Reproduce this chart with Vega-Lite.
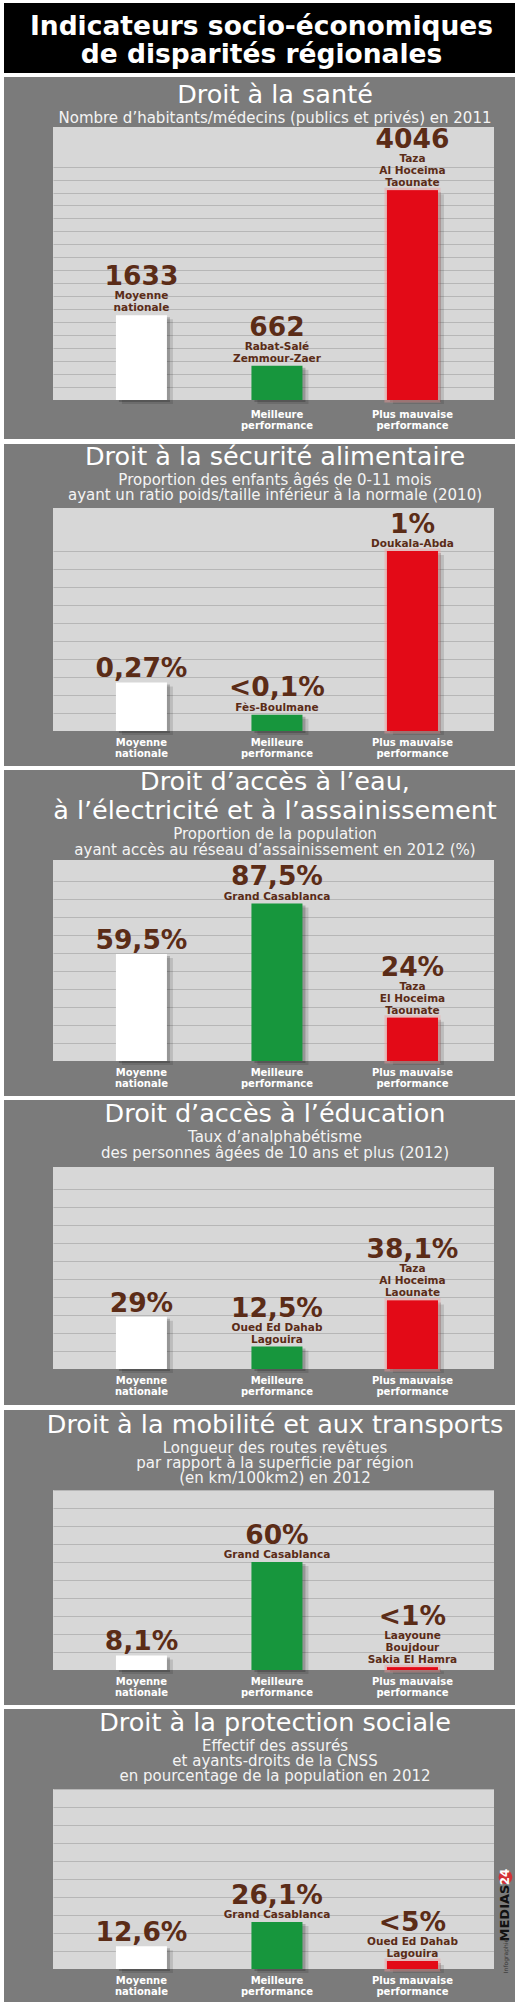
{
  "$schema": "https://vega.github.io/schema/vega-lite/v6.json",
  "background": "#ffffff",
  "padding": {"left": 4, "right": 4, "top": 3, "bottom": 3},
  "spacing": 4,
  "datasets": {
    "header": [{"text": "Indicateurs socio-économiques\nde disparités régionales"}],
    "bars": [
      {"panel": 1, "cat": "Moyenne nationale", "value": 1633, "label": "1633", "region": "Moyenne\nnationale"},
      {"panel": 1, "cat": "Meilleure performance", "value": 662, "label": "662", "region": "Rabat-Salé\nZemmour-Zaer"},
      {"panel": 1, "cat": "Plus mauvaise performance", "value": 4046, "label": "4046", "region": "Taza\nAl Hoceima\nTaounate"},
      {"panel": 2, "cat": "Moyenne nationale", "value": 0.27, "label": "0,27%", "region": ""},
      {"panel": 2, "cat": "Meilleure performance", "value": 0.09, "label": "<0,1%", "region": "Fès-Boulmane"},
      {"panel": 2, "cat": "Plus mauvaise performance", "value": 1, "label": "1%", "region": "Doukala-Abda"},
      {"panel": 3, "cat": "Moyenne nationale", "value": 59.5, "label": "59,5%", "region": ""},
      {"panel": 3, "cat": "Meilleure performance", "value": 87.5, "label": "87,5%", "region": "Grand Casablanca"},
      {"panel": 3, "cat": "Plus mauvaise performance", "value": 24, "label": "24%", "region": "Taza\nEl Hoceima\nTaounate"},
      {"panel": 4, "cat": "Moyenne nationale", "value": 29, "label": "29%", "region": ""},
      {"panel": 4, "cat": "Meilleure performance", "value": 12.5, "label": "12,5%", "region": "Oued Ed Dahab\nLagouira"},
      {"panel": 4, "cat": "Plus mauvaise performance", "value": 38.1, "label": "38,1%", "region": "Taza\nAl Hoceima\nLaounate"},
      {"panel": 5, "cat": "Moyenne nationale", "value": 8.1, "label": "8,1%", "region": ""},
      {"panel": 5, "cat": "Meilleure performance", "value": 60, "label": "60%", "region": "Grand Casablanca"},
      {"panel": 5, "cat": "Plus mauvaise performance", "value": 1.5, "label": "<1%", "region": "Laayoune\nBoujdour\nSakia El Hamra"},
      {"panel": 6, "cat": "Moyenne nationale", "value": 12.6, "label": "12,6%", "region": ""},
      {"panel": 6, "cat": "Meilleure performance", "value": 26.1, "label": "26,1%", "region": "Grand Casablanca"},
      {"panel": 6, "cat": "Plus mauvaise performance", "value": 4.4, "label": "<5%", "region": "Oued Ed Dahab\nLagouira"}
    ]
  },
  "config": {
    "font": "DejaVu Sans",
    "view": {"stroke": null},
    "title": {"color": "#ffffff", "font": "DejaVu Sans", "fontSize": 25.5, "fontWeight": "normal", "subtitleColor": "#f4f4f4", "subtitleFont": "DejaVu Sans", "subtitleFontSize": 15, "subtitlePadding": 0, "baseline": "top", "frame": "group", "anchor": "middle", "zindex": 1, "dx": 1.5, "lineHeight": 28.5},
    "axis": {"domain": false, "ticks": false, "tickSize": 0, "labelColor": "#ffffff", "labelFont": "DejaVu Sans", "labelFontWeight": "bold", "labelOverlap": false, "labelFlush": false, "grid": false, "gridColor": "#b6b6b6", "gridWidth": 1.2}
  },
  "vconcat": [
    {
      "width": 441, "height": 70,
      "view": {"fill": "#000000", "stroke": null},
      "data": {"name": "header"},
      "layer": [
        {"mark": {"type": "rect", "color": "#000000"}, "encoding": {"x": {"datum": -0.111111, "type": "quantitative", "scale": {"domain": [0, 1], "nice": false, "zero": false}, "axis": null}, "x2": {"datum": 0}}},
        {"mark": {"type": "rect", "color": "#000000"}, "encoding": {"x": {"datum": 1, "type": "quantitative", "scale": {"domain": [0, 1], "nice": false, "zero": false}, "axis": null}, "x2": {"datum": 1.047619}}},
        {"mark": {"type": "text", "color": "#ffffff", "fontSize": 26.5, "fontWeight": "bold", "lineBreak": "\n", "lineHeight": 28, "align": "center", "baseline": "middle", "dx": -12, "dy": -11}, "encoding": {"text": {"field": "text"}}}
      ]
    },
    {
      "width": 441, "height": 273,
      "view": {"fill": "#d7d7d7", "stroke": null},
      "title": {"text": "Droit à la santé", "subtitle": "Nombre d’habitants/médecins (publics et privés) en 2011", "offset": -49.0},
      "resolve": {"scale": {"x": "independent"}, "axis": {"x": "independent", "y": "independent"}},
      "layer": [
        {
          "data": {"values": [{}]},
          "layer": [
            {"mark": {"type": "rect", "color": "#7b7b7b"}, "encoding": {
              "x": {"datum": 0, "type": "quantitative", "scale": {"domain": [0, 1], "nice": false, "zero": false}, "axis": null}, "x2": {"datum": 1},
              "y": {"datum": 5263, "type": "quantitative", "scale": {"domain": [0, 5263], "nice": false}, "axis": {"orient": "left", "values": [0, 500, 750, 1000, 1250, 1500, 1750, 2000, 2250, 2500, 2750, 3000, 3250, 3500, 3750, 4000, 4250, 4500], "format": "d", "title": null, "labelPadding": 5, "labelFontSize": 11, "labelBaseline": "middle", "labelOffset": -3, "zindex": 1}},
              "y2": {"datum": 6226.9}}},
            {"mark": {"type": "rect", "color": "#7b7b7b"}, "encoding": {
              "x": {"datum": 0, "type": "quantitative", "scale": {"domain": [0, 1], "nice": false, "zero": false}, "axis": null}, "x2": {"datum": 1},
              "y": {"datum": -751.9, "type": "quantitative", "scale": {"domain": [0, 5263], "nice": false}, "axis": null}, "y2": {"datum": 0}}},
            {"mark": {"type": "rect", "color": "#7b7b7b"}, "encoding": {
              "x": {"datum": -0.111111, "type": "quantitative", "scale": {"domain": [0, 1], "nice": false, "zero": false}, "axis": null}, "x2": {"datum": 0},
              "y": {"datum": -751.9, "type": "quantitative", "scale": {"domain": [0, 5263], "nice": false}, "axis": null}, "y2": {"datum": 6226.9}}},
            {"mark": {"type": "rect", "color": "#7b7b7b"}, "encoding": {
              "x": {"datum": 1, "type": "quantitative", "scale": {"domain": [0, 1], "nice": false, "zero": false}, "axis": null}, "x2": {"datum": 1.047619},
              "y": {"datum": -751.9, "type": "quantitative", "scale": {"domain": [0, 5263], "nice": false}, "axis": null}, "y2": {"datum": 6226.9}}}
          ]
        },
        {
          "data": {"name": "bars"},
          "transform": [{"filter": "datum.panel == 1"}],
          "encoding": {
            "x": {"field": "cat", "type": "nominal", "sort": null, "scale": {"domain": ["Moyenne nationale", "Meilleure performance", "Plus mauvaise performance"], "paddingInner": 0.6236, "paddingOuter": 0.439, "align": 0.529},
                  "axis": {"orient": "bottom", "title": null, "labelAngle": 0, "labelFontSize": 10, "labelLineHeight": 10.7, "labelBaseline": "top", "labelPadding": 9.5, "zindex": 1, "labelExpr": "datum.value == 'Moyenne nationale' ? '' : datum.value == 'Plus mauvaise performance' ? ['Plus mauvaise', 'performance'] : split(datum.value, ' ')"}},
            "y": {"field": "value", "type": "quantitative", "scale": {"domain": [0, 5263], "nice": false},
                  "axis": {"orient": "left", "values": [250, 500, 750, 1000, 1250, 1500, 1750, 2000, 2250, 2500, 2750, 3000, 3250, 3500, 3750, 4000, 4250, 4500], "grid": true, "labels": false, "title": null, "zindex": 0}}
          },
          "layer": [
            {"mark": {"type": "bar", "color": "#000000", "opacity": 0.12, "xOffset": 6, "yOffset": 4, "y2Offset": 4}},
            {"mark": {"type": "bar", "color": "#000000", "opacity": 0.2, "xOffset": 3, "yOffset": 2, "y2Offset": 2}},
            {"transform": [{"filter": "datum.cat == 'Plus mauvaise performance'"}], "mark": {"type": "bar", "color": "#e30a17", "stroke": "#f29a9a", "strokeWidth": 5, "strokeOpacity": 0.45}},
            {"mark": {"type": "bar"}, "encoding": {"color": {"field": "cat", "type": "nominal", "scale": {"domain": ["Moyenne nationale", "Meilleure performance", "Plus mauvaise performance"], "range": ["#ffffff", "#17963d", "#e30a17"]}, "legend": null}}},
            {"transform": [{"filter": "datum.region != '' && length(split(datum.region, '\\n')) == 1"}], "mark": {"type": "text", "baseline": "bottom", "dy": -2, "fontSize": 10.5, "fontWeight": "bold", "lineBreak": "\n", "lineHeight": 12, "color": "#5b2c17"}, "encoding": {"text": {"field": "region"}}},
            {"transform": [{"filter": "length(split(datum.region, '\\n')) == 2"}], "mark": {"type": "text", "baseline": "bottom", "dy": -14, "fontSize": 10.5, "fontWeight": "bold", "lineBreak": "\n", "lineHeight": 12, "color": "#5b2c17"}, "encoding": {"text": {"field": "region"}}},
            {"transform": [{"filter": "length(split(datum.region, '\\n')) == 3"}], "mark": {"type": "text", "baseline": "bottom", "dy": -26, "fontSize": 10.5, "fontWeight": "bold", "lineBreak": "\n", "lineHeight": 12, "color": "#5b2c17"}, "encoding": {"text": {"field": "region"}}},
            {"transform": [{"filter": "datum.region == ''"}], "mark": {"type": "text", "baseline": "alphabetic", "dy": -5, "fontSize": 26.5, "fontWeight": "bold", "color": "#5b2c17"}, "encoding": {"text": {"field": "label"}}},
            {"transform": [{"filter": "datum.region != '' && length(split(datum.region, '\\n')) == 1"}], "mark": {"type": "text", "baseline": "alphabetic", "dy": -18.5, "fontSize": 26.5, "fontWeight": "bold", "color": "#5b2c17"}, "encoding": {"text": {"field": "label"}}},
            {"transform": [{"filter": "length(split(datum.region, '\\n')) == 2"}], "mark": {"type": "text", "baseline": "alphabetic", "dy": -30, "fontSize": 26.5, "fontWeight": "bold", "color": "#5b2c17"}, "encoding": {"text": {"field": "label"}}},
            {"transform": [{"filter": "length(split(datum.region, '\\n')) == 3"}], "mark": {"type": "text", "baseline": "alphabetic", "dy": -42, "fontSize": 26.5, "fontWeight": "bold", "color": "#5b2c17"}, "encoding": {"text": {"field": "label"}}}
          ]
        }
      ]
    },
    {
      "width": 441, "height": 223,
      "view": {"fill": "#d7d7d7", "stroke": null},
      "title": {"text": "Droit à la sécurité alimentaire", "subtitle": ["Proportion des enfants âgés de 0-11 mois", "ayant un ratio poids/taille inférieur à la normale (2010)"], "offset": -58.8, "subtitleLineHeight": 14.5},
      "resolve": {"scale": {"x": "independent"}, "axis": {"x": "independent", "y": "independent"}},
      "layer": [
        {
          "data": {"values": [{}]},
          "layer": [
            {"mark": {"type": "rect", "color": "#7b7b7b"}, "encoding": {
              "x": {"datum": 0, "type": "quantitative", "scale": {"domain": [0, 1], "nice": false, "zero": false}, "axis": null}, "x2": {"datum": 1},
              "y": {"datum": 1.2389, "type": "quantitative", "scale": {"domain": [0, 1.2389], "nice": false}, "axis": {"orient": "left", "values": [0, 0.1, 0.2, 0.3, 0.4, 0.5, 0.6, 0.7, 0.8, 0.9, 1], "labelExpr": "datum.value == 0 ? '0' : datum.value >= 1 ? '1,00' : replace(format(datum.value, '.1f'), '.', ',')", "title": null, "labelPadding": 5, "labelFontSize": 11, "labelBaseline": "middle", "labelOffset": -2, "zindex": 1}},
              "y2": {"datum": 1.5944}}},
            {"mark": {"type": "rect", "color": "#7b7b7b"}, "encoding": {
              "x": {"datum": 0, "type": "quantitative", "scale": {"domain": [0, 1], "nice": false, "zero": false}, "axis": null}, "x2": {"datum": 1},
              "y": {"datum": -0.1944, "type": "quantitative", "scale": {"domain": [0, 1.2389], "nice": false}, "axis": null}, "y2": {"datum": 0}}},
            {"mark": {"type": "rect", "color": "#7b7b7b"}, "encoding": {
              "x": {"datum": -0.111111, "type": "quantitative", "scale": {"domain": [0, 1], "nice": false, "zero": false}, "axis": null}, "x2": {"datum": 0},
              "y": {"datum": -0.1944, "type": "quantitative", "scale": {"domain": [0, 1.2389], "nice": false}, "axis": null}, "y2": {"datum": 1.5944}}},
            {"mark": {"type": "rect", "color": "#7b7b7b"}, "encoding": {
              "x": {"datum": 1, "type": "quantitative", "scale": {"domain": [0, 1], "nice": false, "zero": false}, "axis": null}, "x2": {"datum": 1.047619},
              "y": {"datum": -0.1944, "type": "quantitative", "scale": {"domain": [0, 1.2389], "nice": false}, "axis": null}, "y2": {"datum": 1.5944}}}
          ]
        },
        {
          "data": {"name": "bars"},
          "transform": [{"filter": "datum.panel == 2"}],
          "encoding": {
            "x": {"field": "cat", "type": "nominal", "sort": null, "scale": {"domain": ["Moyenne nationale", "Meilleure performance", "Plus mauvaise performance"], "paddingInner": 0.6236, "paddingOuter": 0.439, "align": 0.529},
                  "axis": {"orient": "bottom", "title": null, "labelAngle": 0, "labelFontSize": 10, "labelLineHeight": 10.7, "labelBaseline": "top", "labelPadding": 6.5, "zindex": 1, "labelExpr": "datum.value == 'Plus mauvaise performance' ? ['Plus mauvaise', 'performance'] : split(datum.value, ' ')"}},
            "y": {"field": "value", "type": "quantitative", "scale": {"domain": [0, 1.2389], "nice": false},
                  "axis": {"orient": "left", "values": [0.1, 0.2, 0.3, 0.4, 0.5, 0.6, 0.7, 0.8, 0.9, 1], "grid": true, "labels": false, "title": null, "zindex": 0}}
          },
          "layer": [
            {"mark": {"type": "bar", "color": "#000000", "opacity": 0.12, "xOffset": 6, "yOffset": 4, "y2Offset": 4}},
            {"mark": {"type": "bar", "color": "#000000", "opacity": 0.2, "xOffset": 3, "yOffset": 2, "y2Offset": 2}},
            {"transform": [{"filter": "datum.cat == 'Plus mauvaise performance'"}], "mark": {"type": "bar", "color": "#e30a17", "stroke": "#f29a9a", "strokeWidth": 5, "strokeOpacity": 0.45}},
            {"mark": {"type": "bar"}, "encoding": {"color": {"field": "cat", "type": "nominal", "scale": {"domain": ["Moyenne nationale", "Meilleure performance", "Plus mauvaise performance"], "range": ["#ffffff", "#17963d", "#e30a17"]}, "legend": null}}},
            {"transform": [{"filter": "datum.region != '' && length(split(datum.region, '\\n')) == 1"}], "mark": {"type": "text", "baseline": "bottom", "dy": -2, "fontSize": 10.5, "fontWeight": "bold", "lineBreak": "\n", "lineHeight": 12, "color": "#5b2c17"}, "encoding": {"text": {"field": "region"}}},
            {"transform": [{"filter": "length(split(datum.region, '\\n')) == 2"}], "mark": {"type": "text", "baseline": "bottom", "dy": -14, "fontSize": 10.5, "fontWeight": "bold", "lineBreak": "\n", "lineHeight": 12, "color": "#5b2c17"}, "encoding": {"text": {"field": "region"}}},
            {"transform": [{"filter": "length(split(datum.region, '\\n')) == 3"}], "mark": {"type": "text", "baseline": "bottom", "dy": -26, "fontSize": 10.5, "fontWeight": "bold", "lineBreak": "\n", "lineHeight": 12, "color": "#5b2c17"}, "encoding": {"text": {"field": "region"}}},
            {"transform": [{"filter": "datum.region == ''"}], "mark": {"type": "text", "baseline": "alphabetic", "dy": -5, "fontSize": 26.5, "fontWeight": "bold", "color": "#5b2c17"}, "encoding": {"text": {"field": "label"}}},
            {"transform": [{"filter": "datum.region != '' && length(split(datum.region, '\\n')) == 1"}], "mark": {"type": "text", "baseline": "alphabetic", "dy": -18.5, "fontSize": 26.5, "fontWeight": "bold", "color": "#5b2c17"}, "encoding": {"text": {"field": "label"}}},
            {"transform": [{"filter": "length(split(datum.region, '\\n')) == 2"}], "mark": {"type": "text", "baseline": "alphabetic", "dy": -30, "fontSize": 26.5, "fontWeight": "bold", "color": "#5b2c17"}, "encoding": {"text": {"field": "label"}}},
            {"transform": [{"filter": "length(split(datum.region, '\\n')) == 3"}], "mark": {"type": "text", "baseline": "alphabetic", "dy": -42, "fontSize": 26.5, "fontWeight": "bold", "color": "#5b2c17"}, "encoding": {"text": {"field": "label"}}}
          ]
        }
      ]
    },
    {
      "width": 441, "height": 201,
      "view": {"fill": "#d7d7d7", "stroke": null},
      "title": {"text": ["Droit d’accès à l’eau,", "à l’électricité et à l’assainissement"], "subtitle": ["Proportion de la population", "ayant accès au réseau d’assainissement en 2012  (%)"], "offset": -88.4, "lineHeight": 28.5, "subtitleLineHeight": 16},
      "resolve": {"scale": {"x": "independent"}, "axis": {"x": "independent", "y": "independent"}},
      "layer": [
        {
          "data": {"values": [{}]},
          "layer": [
            {"mark": {"type": "rect", "color": "#7b7b7b"}, "encoding": {
              "x": {"datum": 0, "type": "quantitative", "scale": {"domain": [0, 1], "nice": false, "zero": false}, "axis": null}, "x2": {"datum": 1},
              "y": {"datum": 111.667, "type": "quantitative", "scale": {"domain": [0, 111.667], "nice": false}, "axis": {"orient": "left", "values": [0, 10, 20, 30, 40, 50, 60, 70, 80, 90, 100], "format": "d", "title": null, "labelPadding": 5, "labelFontSize": 11, "labelBaseline": "middle", "labelOffset": -2, "zindex": 1}},
              "y2": {"datum": 161.667}}},
            {"mark": {"type": "rect", "color": "#7b7b7b"}, "encoding": {
              "x": {"datum": 0, "type": "quantitative", "scale": {"domain": [0, 1], "nice": false, "zero": false}, "axis": null}, "x2": {"datum": 1},
              "y": {"datum": -19.444, "type": "quantitative", "scale": {"domain": [0, 111.667], "nice": false}, "axis": null}, "y2": {"datum": 0}}},
            {"mark": {"type": "rect", "color": "#7b7b7b"}, "encoding": {
              "x": {"datum": -0.111111, "type": "quantitative", "scale": {"domain": [0, 1], "nice": false, "zero": false}, "axis": null}, "x2": {"datum": 0},
              "y": {"datum": -19.444, "type": "quantitative", "scale": {"domain": [0, 111.667], "nice": false}, "axis": null}, "y2": {"datum": 161.667}}},
            {"mark": {"type": "rect", "color": "#7b7b7b"}, "encoding": {
              "x": {"datum": 1, "type": "quantitative", "scale": {"domain": [0, 1], "nice": false, "zero": false}, "axis": null}, "x2": {"datum": 1.047619},
              "y": {"datum": -19.444, "type": "quantitative", "scale": {"domain": [0, 111.667], "nice": false}, "axis": null}, "y2": {"datum": 161.667}}}
          ]
        },
        {
          "data": {"name": "bars"},
          "transform": [{"filter": "datum.panel == 3"}],
          "encoding": {
            "x": {"field": "cat", "type": "nominal", "sort": null, "scale": {"domain": ["Moyenne nationale", "Meilleure performance", "Plus mauvaise performance"], "paddingInner": 0.6236, "paddingOuter": 0.439, "align": 0.529},
                  "axis": {"orient": "bottom", "title": null, "labelAngle": 0, "labelFontSize": 10, "labelLineHeight": 10.7, "labelBaseline": "top", "labelPadding": 6.5, "zindex": 1, "labelExpr": "datum.value == 'Plus mauvaise performance' ? ['Plus mauvaise', 'performance'] : split(datum.value, ' ')"}},
            "y": {"field": "value", "type": "quantitative", "scale": {"domain": [0, 111.667], "nice": false},
                  "axis": {"orient": "left", "values": [10, 20, 30, 40, 50, 60, 70, 80, 90, 100], "grid": true, "labels": false, "title": null, "zindex": 0}}
          },
          "layer": [
            {"mark": {"type": "bar", "color": "#000000", "opacity": 0.12, "xOffset": 6, "yOffset": 4, "y2Offset": 4}},
            {"mark": {"type": "bar", "color": "#000000", "opacity": 0.2, "xOffset": 3, "yOffset": 2, "y2Offset": 2}},
            {"transform": [{"filter": "datum.cat == 'Plus mauvaise performance'"}], "mark": {"type": "bar", "color": "#e30a17", "stroke": "#f29a9a", "strokeWidth": 5, "strokeOpacity": 0.45}},
            {"mark": {"type": "bar"}, "encoding": {"color": {"field": "cat", "type": "nominal", "scale": {"domain": ["Moyenne nationale", "Meilleure performance", "Plus mauvaise performance"], "range": ["#ffffff", "#17963d", "#e30a17"]}, "legend": null}}},
            {"transform": [{"filter": "datum.region != '' && length(split(datum.region, '\\n')) == 1"}], "mark": {"type": "text", "baseline": "bottom", "dy": -2, "fontSize": 10.5, "fontWeight": "bold", "lineBreak": "\n", "lineHeight": 12, "color": "#5b2c17"}, "encoding": {"text": {"field": "region"}}},
            {"transform": [{"filter": "length(split(datum.region, '\\n')) == 2"}], "mark": {"type": "text", "baseline": "bottom", "dy": -14, "fontSize": 10.5, "fontWeight": "bold", "lineBreak": "\n", "lineHeight": 12, "color": "#5b2c17"}, "encoding": {"text": {"field": "region"}}},
            {"transform": [{"filter": "length(split(datum.region, '\\n')) == 3"}], "mark": {"type": "text", "baseline": "bottom", "dy": -26, "fontSize": 10.5, "fontWeight": "bold", "lineBreak": "\n", "lineHeight": 12, "color": "#5b2c17"}, "encoding": {"text": {"field": "region"}}},
            {"transform": [{"filter": "datum.region == ''"}], "mark": {"type": "text", "baseline": "alphabetic", "dy": -5, "fontSize": 26.5, "fontWeight": "bold", "color": "#5b2c17"}, "encoding": {"text": {"field": "label"}}},
            {"transform": [{"filter": "datum.region != '' && length(split(datum.region, '\\n')) == 1"}], "mark": {"type": "text", "baseline": "alphabetic", "dy": -18.5, "fontSize": 26.5, "fontWeight": "bold", "color": "#5b2c17"}, "encoding": {"text": {"field": "label"}}},
            {"transform": [{"filter": "length(split(datum.region, '\\n')) == 2"}], "mark": {"type": "text", "baseline": "alphabetic", "dy": -30, "fontSize": 26.5, "fontWeight": "bold", "color": "#5b2c17"}, "encoding": {"text": {"field": "label"}}},
            {"transform": [{"filter": "length(split(datum.region, '\\n')) == 3"}], "mark": {"type": "text", "baseline": "alphabetic", "dy": -42, "fontSize": 26.5, "fontWeight": "bold", "color": "#5b2c17"}, "encoding": {"text": {"field": "label"}}}
          ]
        }
      ]
    },
    {
      "width": 441, "height": 202,
      "view": {"fill": "#d7d7d7", "stroke": null},
      "title": {"text": "Droit d’accès à l’éducation", "subtitle": ["Taux d’analphabétisme", "des personnes âgées de 10 ans et plus (2012)"], "offset": -60.5, "subtitleLineHeight": 15.5},
      "resolve": {"scale": {"x": "independent"}, "axis": {"x": "independent", "y": "independent"}},
      "layer": [
        {
          "data": {"values": [{}]},
          "layer": [
            {"mark": {"type": "rect", "color": "#7b7b7b"}, "encoding": {
              "x": {"datum": 0, "type": "quantitative", "scale": {"domain": [0, 1], "nice": false, "zero": false}, "axis": null}, "x2": {"datum": 1},
              "y": {"datum": 112.222, "type": "quantitative", "scale": {"domain": [0, 112.222], "nice": false}, "axis": {"orient": "left", "values": [0, 10, 20, 30, 40, 50, 60, 70, 80, 90, 100], "format": "d", "title": null, "labelPadding": 5, "labelFontSize": 11, "labelBaseline": "middle", "labelOffset": -2, "zindex": 1}},
              "y2": {"datum": 149.444}}},
            {"mark": {"type": "rect", "color": "#7b7b7b"}, "encoding": {
              "x": {"datum": 0, "type": "quantitative", "scale": {"domain": [0, 1], "nice": false, "zero": false}, "axis": null}, "x2": {"datum": 1},
              "y": {"datum": -20, "type": "quantitative", "scale": {"domain": [0, 112.222], "nice": false}, "axis": null}, "y2": {"datum": 0}}},
            {"mark": {"type": "rect", "color": "#7b7b7b"}, "encoding": {
              "x": {"datum": -0.111111, "type": "quantitative", "scale": {"domain": [0, 1], "nice": false, "zero": false}, "axis": null}, "x2": {"datum": 0},
              "y": {"datum": -20, "type": "quantitative", "scale": {"domain": [0, 112.222], "nice": false}, "axis": null}, "y2": {"datum": 149.444}}},
            {"mark": {"type": "rect", "color": "#7b7b7b"}, "encoding": {
              "x": {"datum": 1, "type": "quantitative", "scale": {"domain": [0, 1], "nice": false, "zero": false}, "axis": null}, "x2": {"datum": 1.047619},
              "y": {"datum": -20, "type": "quantitative", "scale": {"domain": [0, 112.222], "nice": false}, "axis": null}, "y2": {"datum": 149.444}}}
          ]
        },
        {
          "data": {"name": "bars"},
          "transform": [{"filter": "datum.panel == 4"}],
          "encoding": {
            "x": {"field": "cat", "type": "nominal", "sort": null, "scale": {"domain": ["Moyenne nationale", "Meilleure performance", "Plus mauvaise performance"], "paddingInner": 0.6236, "paddingOuter": 0.439, "align": 0.529},
                  "axis": {"orient": "bottom", "title": null, "labelAngle": 0, "labelFontSize": 10, "labelLineHeight": 10.7, "labelBaseline": "top", "labelPadding": 6.5, "zindex": 1, "labelExpr": "datum.value == 'Plus mauvaise performance' ? ['Plus mauvaise', 'performance'] : split(datum.value, ' ')"}},
            "y": {"field": "value", "type": "quantitative", "scale": {"domain": [0, 112.222], "nice": false},
                  "axis": {"orient": "left", "values": [10, 20, 30, 40, 50, 60, 70, 80, 90, 100], "grid": true, "labels": false, "title": null, "zindex": 0}}
          },
          "layer": [
            {"mark": {"type": "bar", "color": "#000000", "opacity": 0.12, "xOffset": 6, "yOffset": 4, "y2Offset": 4}},
            {"mark": {"type": "bar", "color": "#000000", "opacity": 0.2, "xOffset": 3, "yOffset": 2, "y2Offset": 2}},
            {"transform": [{"filter": "datum.cat == 'Plus mauvaise performance'"}], "mark": {"type": "bar", "color": "#e30a17", "stroke": "#f29a9a", "strokeWidth": 5, "strokeOpacity": 0.45}},
            {"mark": {"type": "bar"}, "encoding": {"color": {"field": "cat", "type": "nominal", "scale": {"domain": ["Moyenne nationale", "Meilleure performance", "Plus mauvaise performance"], "range": ["#ffffff", "#17963d", "#e30a17"]}, "legend": null}}},
            {"transform": [{"filter": "datum.region != '' && length(split(datum.region, '\\n')) == 1"}], "mark": {"type": "text", "baseline": "bottom", "dy": -2, "fontSize": 10.5, "fontWeight": "bold", "lineBreak": "\n", "lineHeight": 12, "color": "#5b2c17"}, "encoding": {"text": {"field": "region"}}},
            {"transform": [{"filter": "length(split(datum.region, '\\n')) == 2"}], "mark": {"type": "text", "baseline": "bottom", "dy": -14, "fontSize": 10.5, "fontWeight": "bold", "lineBreak": "\n", "lineHeight": 12, "color": "#5b2c17"}, "encoding": {"text": {"field": "region"}}},
            {"transform": [{"filter": "length(split(datum.region, '\\n')) == 3"}], "mark": {"type": "text", "baseline": "bottom", "dy": -26, "fontSize": 10.5, "fontWeight": "bold", "lineBreak": "\n", "lineHeight": 12, "color": "#5b2c17"}, "encoding": {"text": {"field": "region"}}},
            {"transform": [{"filter": "datum.region == ''"}], "mark": {"type": "text", "baseline": "alphabetic", "dy": -5, "fontSize": 26.5, "fontWeight": "bold", "color": "#5b2c17"}, "encoding": {"text": {"field": "label"}}},
            {"transform": [{"filter": "datum.region != '' && length(split(datum.region, '\\n')) == 1"}], "mark": {"type": "text", "baseline": "alphabetic", "dy": -18.5, "fontSize": 26.5, "fontWeight": "bold", "color": "#5b2c17"}, "encoding": {"text": {"field": "label"}}},
            {"transform": [{"filter": "length(split(datum.region, '\\n')) == 2"}], "mark": {"type": "text", "baseline": "alphabetic", "dy": -30, "fontSize": 26.5, "fontWeight": "bold", "color": "#5b2c17"}, "encoding": {"text": {"field": "label"}}},
            {"transform": [{"filter": "length(split(datum.region, '\\n')) == 3"}], "mark": {"type": "text", "baseline": "alphabetic", "dy": -42, "fontSize": 26.5, "fontWeight": "bold", "color": "#5b2c17"}, "encoding": {"text": {"field": "label"}}}
          ]
        }
      ]
    },
    {
      "width": 441, "height": 180,
      "view": {"fill": "#d7d7d7", "stroke": null},
      "title": {"text": "Droit à la mobilité et aux transports", "subtitle": ["Longueur des routes revêtues", "par rapport à la superficie par région", "(en km/100km2) en 2012"], "offset": -75.5, "subtitleLineHeight": 14.75},
      "resolve": {"scale": {"x": "independent"}, "axis": {"x": "independent", "y": "independent"}},
      "layer": [
        {
          "data": {"values": [{}]},
          "layer": [
            {"mark": {"type": "rect", "color": "#7b7b7b"}, "encoding": {
              "x": {"datum": 0, "type": "quantitative", "scale": {"domain": [0, 1], "nice": false, "zero": false}, "axis": null}, "x2": {"datum": 1},
              "y": {"datum": 100, "type": "quantitative", "scale": {"domain": [0, 100], "nice": false}, "axis": {"orient": "left", "values": [0, 10, 20, 30, 40, 50, 60, 70, 80, 90, 100], "format": "d", "title": null, "labelPadding": 5, "labelFontSize": 11, "labelBaseline": "middle", "labelOffset": -2, "zindex": 1}},
              "y2": {"datum": 144.444}}},
            {"mark": {"type": "rect", "color": "#7b7b7b"}, "encoding": {
              "x": {"datum": 0, "type": "quantitative", "scale": {"domain": [0, 1], "nice": false, "zero": false}, "axis": null}, "x2": {"datum": 1},
              "y": {"datum": -19.444, "type": "quantitative", "scale": {"domain": [0, 100], "nice": false}, "axis": null}, "y2": {"datum": 0}}},
            {"mark": {"type": "rect", "color": "#7b7b7b"}, "encoding": {
              "x": {"datum": -0.111111, "type": "quantitative", "scale": {"domain": [0, 1], "nice": false, "zero": false}, "axis": null}, "x2": {"datum": 0},
              "y": {"datum": -19.444, "type": "quantitative", "scale": {"domain": [0, 100], "nice": false}, "axis": null}, "y2": {"datum": 144.444}}},
            {"mark": {"type": "rect", "color": "#7b7b7b"}, "encoding": {
              "x": {"datum": 1, "type": "quantitative", "scale": {"domain": [0, 1], "nice": false, "zero": false}, "axis": null}, "x2": {"datum": 1.047619},
              "y": {"datum": -19.444, "type": "quantitative", "scale": {"domain": [0, 100], "nice": false}, "axis": null}, "y2": {"datum": 144.444}}}
          ]
        },
        {
          "data": {"name": "bars"},
          "transform": [{"filter": "datum.panel == 5"}],
          "encoding": {
            "x": {"field": "cat", "type": "nominal", "sort": null, "scale": {"domain": ["Moyenne nationale", "Meilleure performance", "Plus mauvaise performance"], "paddingInner": 0.6236, "paddingOuter": 0.439, "align": 0.529},
                  "axis": {"orient": "bottom", "title": null, "labelAngle": 0, "labelFontSize": 10, "labelLineHeight": 10.7, "labelBaseline": "top", "labelPadding": 6.5, "zindex": 1, "labelExpr": "datum.value == 'Plus mauvaise performance' ? ['Plus mauvaise', 'performance'] : split(datum.value, ' ')"}},
            "y": {"field": "value", "type": "quantitative", "scale": {"domain": [0, 100], "nice": false},
                  "axis": {"orient": "left", "values": [10, 20, 30, 40, 50, 60, 70, 80, 90, 100], "grid": true, "labels": false, "title": null, "zindex": 0}}
          },
          "layer": [
            {"mark": {"type": "bar", "color": "#000000", "opacity": 0.12, "xOffset": 6, "yOffset": 4, "y2Offset": 4}},
            {"mark": {"type": "bar", "color": "#000000", "opacity": 0.2, "xOffset": 3, "yOffset": 2, "y2Offset": 2}},
            {"transform": [{"filter": "datum.cat == 'Plus mauvaise performance'"}], "mark": {"type": "bar", "color": "#e30a17", "stroke": "#f29a9a", "strokeWidth": 5, "strokeOpacity": 0.45}},
            {"mark": {"type": "bar"}, "encoding": {"color": {"field": "cat", "type": "nominal", "scale": {"domain": ["Moyenne nationale", "Meilleure performance", "Plus mauvaise performance"], "range": ["#ffffff", "#17963d", "#e30a17"]}, "legend": null}}},
            {"transform": [{"filter": "datum.region != '' && length(split(datum.region, '\\n')) == 1"}], "mark": {"type": "text", "baseline": "bottom", "dy": -2, "fontSize": 10.5, "fontWeight": "bold", "lineBreak": "\n", "lineHeight": 12, "color": "#5b2c17"}, "encoding": {"text": {"field": "region"}}},
            {"transform": [{"filter": "length(split(datum.region, '\\n')) == 2"}], "mark": {"type": "text", "baseline": "bottom", "dy": -14, "fontSize": 10.5, "fontWeight": "bold", "lineBreak": "\n", "lineHeight": 12, "color": "#5b2c17"}, "encoding": {"text": {"field": "region"}}},
            {"transform": [{"filter": "length(split(datum.region, '\\n')) == 3"}], "mark": {"type": "text", "baseline": "bottom", "dy": -26, "fontSize": 10.5, "fontWeight": "bold", "lineBreak": "\n", "lineHeight": 12, "color": "#5b2c17"}, "encoding": {"text": {"field": "region"}}},
            {"transform": [{"filter": "datum.region == ''"}], "mark": {"type": "text", "baseline": "alphabetic", "dy": -5, "fontSize": 26.5, "fontWeight": "bold", "color": "#5b2c17"}, "encoding": {"text": {"field": "label"}}},
            {"transform": [{"filter": "datum.region != '' && length(split(datum.region, '\\n')) == 1"}], "mark": {"type": "text", "baseline": "alphabetic", "dy": -18.5, "fontSize": 26.5, "fontWeight": "bold", "color": "#5b2c17"}, "encoding": {"text": {"field": "label"}}},
            {"transform": [{"filter": "length(split(datum.region, '\\n')) == 2"}], "mark": {"type": "text", "baseline": "alphabetic", "dy": -30, "fontSize": 26.5, "fontWeight": "bold", "color": "#5b2c17"}, "encoding": {"text": {"field": "label"}}},
            {"transform": [{"filter": "length(split(datum.region, '\\n')) == 3"}], "mark": {"type": "text", "baseline": "alphabetic", "dy": -42, "fontSize": 26.5, "fontWeight": "bold", "color": "#5b2c17"}, "encoding": {"text": {"field": "label"}}}
          ]
        }
      ]
    },
    {
      "width": 441, "height": 180,
      "view": {"fill": "#d7d7d7", "stroke": null},
      "title": {"text": "Droit à la protection sociale", "subtitle": ["Effectif des assurés", "et ayants-droits de la CNSS", "en pourcentage de la population en 2012"], "offset": -74.8, "subtitleLineHeight": 14.75},
      "resolve": {"scale": {"x": "independent"}, "axis": {"x": "independent", "y": "independent"}},
      "layer": [
        {
          "data": {"values": [{}]},
          "layer": [
            {"mark": {"type": "rect", "color": "#7b7b7b"}, "encoding": {
              "x": {"datum": 0, "type": "quantitative", "scale": {"domain": [0, 1], "nice": false, "zero": false}, "axis": null}, "x2": {"datum": 1},
              "y": {"datum": 100, "type": "quantitative", "scale": {"domain": [0, 100], "nice": false}, "axis": {"orient": "left", "values": [0, 10, 20, 30, 40, 50, 60, 70, 80, 90, 100], "format": "d", "title": null, "labelPadding": 5, "labelFontSize": 11, "labelBaseline": "middle", "labelOffset": -2, "zindex": 1}},
              "y2": {"datum": 144.444}}},
            {"mark": {"type": "rect", "color": "#7b7b7b"}, "encoding": {
              "x": {"datum": 0, "type": "quantitative", "scale": {"domain": [0, 1], "nice": false, "zero": false}, "axis": null}, "x2": {"datum": 1},
              "y": {"datum": -18.333, "type": "quantitative", "scale": {"domain": [0, 100], "nice": false}, "axis": null}, "y2": {"datum": 0}}},
            {"mark": {"type": "rect", "color": "#7b7b7b"}, "encoding": {
              "x": {"datum": -0.111111, "type": "quantitative", "scale": {"domain": [0, 1], "nice": false, "zero": false}, "axis": null}, "x2": {"datum": 0},
              "y": {"datum": -18.333, "type": "quantitative", "scale": {"domain": [0, 100], "nice": false}, "axis": null}, "y2": {"datum": 144.444}}},
            {"mark": {"type": "rect", "color": "#7b7b7b"}, "encoding": {
              "x": {"datum": 1, "type": "quantitative", "scale": {"domain": [0, 1], "nice": false, "zero": false}, "axis": null}, "x2": {"datum": 1.047619},
              "y": {"datum": -18.333, "type": "quantitative", "scale": {"domain": [0, 100], "nice": false}, "axis": null}, "y2": {"datum": 144.444}}},
            {"mark": {"type": "circle", "color": "#e3242b", "size": 190, "opacity": 0.85}, "encoding": {
              "x": {"datum": 1.026, "type": "quantitative", "scale": {"domain": [0, 1], "nice": false, "zero": false}, "axis": null},
              "y": {"datum": 51.1, "type": "quantitative", "scale": {"domain": [0, 100], "nice": false}, "axis": null}}},
            {"mark": {"type": "text", "text": "24", "angle": 270, "fontSize": 12, "fontWeight": "bold", "color": "#ffffff", "align": "center", "baseline": "middle"}, "encoding": {
              "x": {"datum": 1.026, "type": "quantitative", "scale": {"domain": [0, 1], "nice": false, "zero": false}, "axis": null},
              "y": {"datum": 51.1, "type": "quantitative", "scale": {"domain": [0, 100], "nice": false}, "axis": null}}},
            {"mark": {"type": "text", "text": "MEDIAS", "angle": 270, "fontSize": 13, "fontWeight": "bold", "color": "#111111", "align": "center", "baseline": "middle"}, "encoding": {
              "x": {"datum": 1.026, "type": "quantitative", "scale": {"domain": [0, 1], "nice": false, "zero": false}, "axis": null},
              "y": {"datum": 31.1, "type": "quantitative", "scale": {"domain": [0, 100], "nice": false}, "axis": null}}},
            {"mark": {"type": "text", "text": "Infographie", "angle": 270, "fontSize": 6, "color": "#333333", "align": "center", "baseline": "middle"}, "encoding": {
              "x": {"datum": 1.027, "type": "quantitative", "scale": {"domain": [0, 1], "nice": false, "zero": false}, "axis": null},
              "y": {"datum": 7.2, "type": "quantitative", "scale": {"domain": [0, 100], "nice": false}, "axis": null}}}
          ]
        },
        {
          "data": {"name": "bars"},
          "transform": [{"filter": "datum.panel == 6"}],
          "encoding": {
            "x": {"field": "cat", "type": "nominal", "sort": null, "scale": {"domain": ["Moyenne nationale", "Meilleure performance", "Plus mauvaise performance"], "paddingInner": 0.6236, "paddingOuter": 0.439, "align": 0.529},
                  "axis": {"orient": "bottom", "title": null, "labelAngle": 0, "labelFontSize": 10, "labelLineHeight": 10.7, "labelBaseline": "top", "labelPadding": 6.5, "zindex": 1, "labelExpr": "datum.value == 'Plus mauvaise performance' ? ['Plus mauvaise', 'performance'] : split(datum.value, ' ')"}},
            "y": {"field": "value", "type": "quantitative", "scale": {"domain": [0, 100], "nice": false},
                  "axis": {"orient": "left", "values": [10, 20, 30, 40, 50, 60, 70, 80, 90, 100], "grid": true, "labels": false, "title": null, "zindex": 0}}
          },
          "layer": [
            {"mark": {"type": "bar", "color": "#000000", "opacity": 0.12, "xOffset": 6, "yOffset": 4, "y2Offset": 4}},
            {"mark": {"type": "bar", "color": "#000000", "opacity": 0.2, "xOffset": 3, "yOffset": 2, "y2Offset": 2}},
            {"transform": [{"filter": "datum.cat == 'Plus mauvaise performance'"}], "mark": {"type": "bar", "color": "#e30a17", "stroke": "#f29a9a", "strokeWidth": 5, "strokeOpacity": 0.45}},
            {"mark": {"type": "bar"}, "encoding": {"color": {"field": "cat", "type": "nominal", "scale": {"domain": ["Moyenne nationale", "Meilleure performance", "Plus mauvaise performance"], "range": ["#ffffff", "#17963d", "#e30a17"]}, "legend": null}}},
            {"transform": [{"filter": "datum.region != '' && length(split(datum.region, '\\n')) == 1"}], "mark": {"type": "text", "baseline": "bottom", "dy": -2, "fontSize": 10.5, "fontWeight": "bold", "lineBreak": "\n", "lineHeight": 12, "color": "#5b2c17"}, "encoding": {"text": {"field": "region"}}},
            {"transform": [{"filter": "length(split(datum.region, '\\n')) == 2"}], "mark": {"type": "text", "baseline": "bottom", "dy": -14, "fontSize": 10.5, "fontWeight": "bold", "lineBreak": "\n", "lineHeight": 12, "color": "#5b2c17"}, "encoding": {"text": {"field": "region"}}},
            {"transform": [{"filter": "length(split(datum.region, '\\n')) == 3"}], "mark": {"type": "text", "baseline": "bottom", "dy": -26, "fontSize": 10.5, "fontWeight": "bold", "lineBreak": "\n", "lineHeight": 12, "color": "#5b2c17"}, "encoding": {"text": {"field": "region"}}},
            {"transform": [{"filter": "datum.region == ''"}], "mark": {"type": "text", "baseline": "alphabetic", "dy": -5, "fontSize": 26.5, "fontWeight": "bold", "color": "#5b2c17"}, "encoding": {"text": {"field": "label"}}},
            {"transform": [{"filter": "datum.region != '' && length(split(datum.region, '\\n')) == 1"}], "mark": {"type": "text", "baseline": "alphabetic", "dy": -18.5, "fontSize": 26.5, "fontWeight": "bold", "color": "#5b2c17"}, "encoding": {"text": {"field": "label"}}},
            {"transform": [{"filter": "length(split(datum.region, '\\n')) == 2"}], "mark": {"type": "text", "baseline": "alphabetic", "dy": -30, "fontSize": 26.5, "fontWeight": "bold", "color": "#5b2c17"}, "encoding": {"text": {"field": "label"}}},
            {"transform": [{"filter": "length(split(datum.region, '\\n')) == 3"}], "mark": {"type": "text", "baseline": "alphabetic", "dy": -42, "fontSize": 26.5, "fontWeight": "bold", "color": "#5b2c17"}, "encoding": {"text": {"field": "label"}}}
          ]
        }
      ]
    }
  ]
}
